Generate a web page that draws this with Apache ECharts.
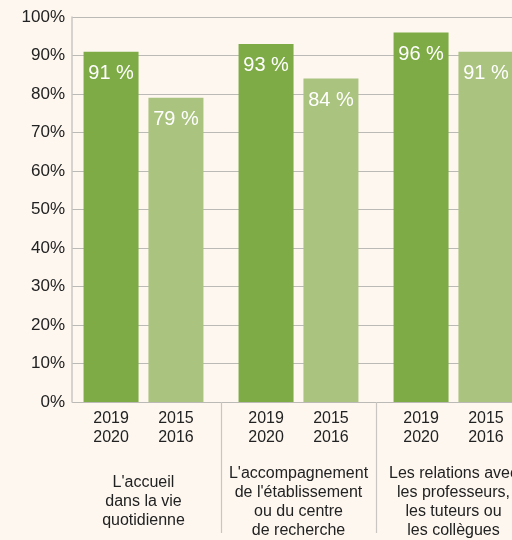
<!DOCTYPE html>
<html>
<head>
<meta charset="utf-8">
<script src="https://cdn.jsdelivr.net/npm/echarts@6/dist/echarts.min.js"></script>
<style>
  html, body { margin: 0; padding: 0; background: #fdf7f0; }
  #chart { width: 512px; height: 540px; }
</style>
</head>
<body>
<div id="chart"></div>
<script>
// groupes de questions
const groups = [
  "L'accueil\ndans la vie\nquotidienne",
  "L'accompagnement\nde l'établissement\nou du centre\nde recherche",
  "Les relations avec\nles professeurs,\nles tuteurs ou\nles collègues"
]
const periods = ['2019\n2020', '2015\n2016']
const recentValues = [91, 93, 96]
const previousValues = [79, 84, 91]

const font = '"Liberation Sans", Arial, sans-serif'
const darkGreen = '#7eab45'
const lightGreen = '#aac37e'
const textColor = '#222222'

const chart = echarts.init(document.getElementById('chart'))

// valeurs en haut des barres
const valueLabel = {
  show: true,
  position: 'insideTop',
  distance: 12,
  color: '#ffffff',
  fontSize: 20,
  fontFamily: font,
  formatter: p => p.value + ' %'
}

// libellés des années sous chaque barre
const periodLabel = (i) => ({
  show: true,
  position: 'bottom',
  distance: 7,
  color: textColor,
  fontSize: 16,
  lineHeight: 19,
  fontFamily: font,
  formatter: () => periods[i]
})

const option = {
  backgroundColor: '#fdf7f0',
  animation: false,
  grid: [
    { left: 72, top: 17, bottom: 138, right: -30, outerBoundsMode: 'none', containLabel: false },
    { left: 66, top: 17, bottom: 138, width: 465, outerBoundsMode: 'none', containLabel: false }
  ],
  xAxis: [
    { gridIndex: 0, type: 'value', show: false },
    {
      gridIndex: 1,
      type: 'category',
      data: groups,
      axisLine: { show: false },
      axisTick: {
        show: true,
        length: 131,
        interval: (index) => index === 1 || index === 2,
        lineStyle: { color: '#c9c6c2', width: 1.2 }
      },
      axisLabel: {
        interval: 0,
        hideOverlap: false,
        margin: 100,
        verticalAlign: 'middle',
        color: textColor,
        fontSize: 16,
        lineHeight: 19,
        fontFamily: font
      }
    },
    { gridIndex: 1, type: 'category', data: groups, show: false }
  ],
  yAxis: [
    {
      gridIndex: 0,
      type: 'value',
      min: 0,
      max: 100,
      interval: 10,
      axisLine: { show: true, lineStyle: { color: '#c9c6c2', width: 1.5 } },
      axisTick: { show: false },
      axisLabel: {
        margin: 7,
        formatter: '{value}%',
        color: textColor,
        fontSize: 17,
        fontFamily: font
      },
      splitLine: { lineStyle: { color: '#bcbab7', width: 1 } }
    },
    { gridIndex: 1, type: 'value', min: 0, max: 100, show: false },
    { gridIndex: 1, type: 'value', min: 0, max: 100, show: false }
  ],
  series: [
    {
      name: periods[0],
      type: 'bar',
      xAxisIndex: 1,
      yAxisIndex: 1,
      data: recentValues,
      barWidth: 55,
      barGap: '18%',
      itemStyle: { color: darkGreen },
      label: valueLabel
    },
    {
      name: periods[1],
      type: 'bar',
      xAxisIndex: 1,
      yAxisIndex: 1,
      data: previousValues,
      barWidth: 55,
      barGap: '18%',
      itemStyle: { color: lightGreen },
      label: valueLabel
    },
    {
      type: 'bar',
      xAxisIndex: 2,
      yAxisIndex: 2,
      data: recentValues,
      barWidth: 55,
      barGap: '18%',
      silent: true,
      itemStyle: { color: 'transparent' },
      label: periodLabel(0)
    },
    {
      type: 'bar',
      xAxisIndex: 2,
      yAxisIndex: 2,
      data: previousValues,
      barWidth: 55,
      barGap: '18%',
      silent: true,
      itemStyle: { color: 'transparent' },
      label: periodLabel(1)
    }
  ]
}

chart.setOption(option)
</script>
</body>
</html>
